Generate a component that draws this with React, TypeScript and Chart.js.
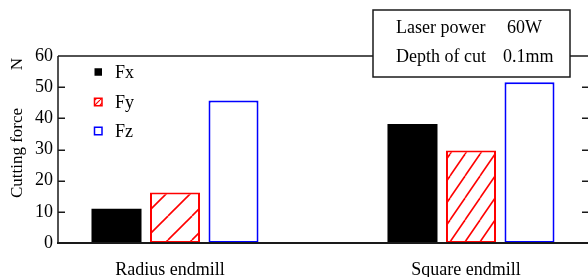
import { useEffect, useRef } from 'react';
import { Chart, registerables } from 'chart.js';

Chart.register(...registerables);

const categories = ['Radius endmill', 'Square endmill'];
const seriesNames = ['Fx', 'Fy', 'Fz'];
const fxValues = [11, 38.2];
const fyValues = [16.2, 29.7];
const fzValues = [45.7, 51.6];
const yTickValues = [0, 10, 20, 30, 40, 50, 60];
const infoLabels = ['Laser power', 'Depth of cut'];
const infoValues = ['60W', '0.1mm'];
const yTitleText = 'Cutting force';
const yUnitText = 'N';

const SERIF = '"Liberation Serif", "DejaVu Serif", serif';

function makeHatch(w: number, h: number, color: string, lw: number): CanvasPattern | string {
  const c = document.createElement('canvas');
  c.width = w;
  c.height = h;
  const g = c.getContext('2d');
  if (!g) return '#fff';
  g.fillStyle = '#ffffff';
  g.fillRect(0, 0, w, h);
  g.strokeStyle = color;
  g.lineWidth = lw;
  for (const dx of [-w, 0, w]) {
    g.beginPath();
    g.moveTo(dx, h);
    g.lineTo(dx + w, 0);
    g.stroke();
  }
  const p = g.createPattern(c, 'repeat');
  return p || '#fff';
}

export default function App() {
  const ref = useRef<HTMLCanvasElement | null>(null);

  useEffect(() => {
    const canvas = ref.current;
    if (!canvas) return;
    const hatchA = makeHatch(24, 24, '#ff0000', 1.6);
    const hatchB = makeHatch(15, 22, '#ff0000', 1.6);
    const legendHatch = makeHatch(5, 5, '#ff0000', 1.2);

    const overlay = {
      id: 'overlay',
      afterDatasetsDraw(chart: any) {
        const { ctx, chartArea } = chart;
        const ys = chart.scales.y;
        const { left, right, top, bottom } = chartArea;
        ctx.save();
        ctx.strokeStyle = '#1a1a1a';
        ctx.lineWidth = 1.5;
        ctx.beginPath();
        ctx.moveTo(left, top);
        ctx.lineTo(right + 2, top);
        ctx.moveTo(left, top);
        ctx.lineTo(left, bottom);
        ctx.stroke();
        ctx.lineWidth = 2;
        ctx.beginPath();
        ctx.moveTo(left - 1, bottom);
        ctx.lineTo(right + 2, bottom);
        ctx.stroke();
        ctx.lineWidth = 1.5;
        ctx.beginPath();
        for (const v of yTickValues) {
          if (v === 0 || v === 60) continue;
          const py = Math.round(ys.getPixelForValue(v)) + 0.25;
          ctx.moveTo(left, py);
          ctx.lineTo(left + 7, py);
          ctx.moveTo(right - 6, py);
          ctx.lineTo(right, py);
        }
        ctx.stroke();
        ctx.restore();
      },
      afterDraw(chart: any) {
        const { ctx } = chart;
        ctx.save();
        // y axis title
        ctx.fillStyle = '#000';
        ctx.font = `17px ${SERIF}`;
        ctx.textAlign = 'center';
        ctx.textBaseline = 'alphabetic';
        ctx.translate(22, 153);
        ctx.rotate(-Math.PI / 2);
        ctx.fillText(yTitleText, 0, 0);
        ctx.setTransform(1, 0, 0, 1, 0, 0);
        ctx.translate(22, 64);
        ctx.rotate(-Math.PI / 2);
        ctx.fillText(yUnitText, 0, 0);
        ctx.setTransform(1, 0, 0, 1, 0, 0);
        ctx.restore();

        // legend
        ctx.save();
        const legendY = [72, 102, 131];
        chart.data.datasets.forEach((ds: any, i: number) => {
          const cy = legendY[i];
          const x0 = 94.5;
          const s = 7.5;
          if (i === 0) {
            ctx.fillStyle = '#000';
            ctx.fillRect(x0, cy - s / 2, s, s);
          } else if (i === 1) {
            ctx.fillStyle = legendHatch;
            ctx.fillRect(x0, cy - s / 2, s, s);
            ctx.strokeStyle = '#ff0000';
            ctx.lineWidth = 1.5;
            ctx.strokeRect(x0, cy - s / 2, s, s);
          } else {
            ctx.fillStyle = '#fff';
            ctx.fillRect(x0, cy - s / 2, s, s);
            ctx.strokeStyle = '#0000ff';
            ctx.lineWidth = 1.5;
            ctx.strokeRect(x0, cy - s / 2, s, s);
          }
          ctx.fillStyle = '#000';
          ctx.font = `18px ${SERIF}`;
          ctx.textAlign = 'left';
          ctx.textBaseline = 'middle';
          ctx.fillText(ds.label, 115, cy + 1);
        });
        ctx.restore();

        // info box
        ctx.save();
        ctx.fillStyle = '#fff';
        ctx.fillRect(373, 10, 197, 67);
        ctx.strokeStyle = '#1a1a1a';
        ctx.lineWidth = 1.5;
        ctx.strokeRect(373, 10, 197, 67);
        ctx.fillStyle = '#000';
        ctx.font = `18px ${SERIF}`;
        ctx.textAlign = 'left';
        ctx.textBaseline = 'middle';
        ctx.fillText(infoLabels[0], 396, 28);
        ctx.fillText(infoValues[0], 507, 28);
        ctx.fillText(infoLabels[1], 396, 57);
        ctx.fillText(infoValues[1], 503, 57);
        ctx.restore();
      },
    };

    const chart = new Chart(canvas, {
      type: 'bar',
      data: {
        datasets: [
          {
            label: seriesNames[0],
            data: fxValues.map((v, i) => ({ x: i, y: v })),
            backgroundColor: '#000000',
            borderWidth: 0,
          },
          {
            label: seriesNames[1],
            data: fyValues.map((v, i) => ({ x: i, y: v })),
            backgroundColor: [hatchA, hatchB] as any,
            borderColor: '#ff0000',
            borderWidth: 2,
            borderSkipped: false,
          },
          {
            label: seriesNames[2],
            data: fzValues.map((v, i) => ({ x: i, y: v })),
            backgroundColor: '#ffffff',
            borderColor: '#0000ff',
            borderWidth: 2,
            borderSkipped: false,
          },
        ],
      },
      options: {
        animation: false,
        responsive: false,
        maintainAspectRatio: false,
        devicePixelRatio: 1,
        layout: { padding: { top: 56, right: 0, left: 0, bottom: 0 } },
        datasets: {
          bar: { categoryPercentage: 0.593, barPercentage: 0.855 },
        },
        plugins: {
          legend: { display: false },
          tooltip: { enabled: false },
          title: { display: false },
        },
        scales: {
          x: {
            type: 'linear',
            min: -0.3953,
            max: 1.3953,
            offset: false,
            afterBuildTicks: (scale: any) => {
              scale.ticks = categories.map((_, i) => ({ value: i }));
            },
            afterFit: (scale: any) => {
              scale.height = 34;
            },
            grid: { display: false, drawTicks: false },
            border: { display: false },
            ticks: {
              callback: (v: any) => categories[Math.round(Number(v))] ?? '',
              font: { family: SERIF, size: 18 },
              color: '#000',
              padding: 16,
              labelOffset: -5,
              maxRotation: 0,
              autoSkip: false,
            },
          },
          y: {
            type: 'linear',
            min: 0,
            max: 60,
            afterBuildTicks: (scale: any) => {
              scale.ticks = yTickValues.map((v) => ({ value: v }));
            },
            afterFit: (scale: any) => {
              scale.width = 58;
            },
            grid: { display: false, drawTicks: false },
            border: { display: false },
            ticks: {
              font: { family: SERIF, size: 18 },
              color: '#000',
              padding: 5,
            },
          },
        },
      },
      plugins: [overlay],
    });

    return () => {
      chart.destroy();
    };
  }, []);

  return (
    <div style={{ position: 'absolute', left: 0, top: 0, width: 588, height: 277, background: '#fff' }}>
      <canvas ref={ref} width={588} height={277} style={{ display: 'block', width: 588, height: 277 }} />
    </div>
  );
}
